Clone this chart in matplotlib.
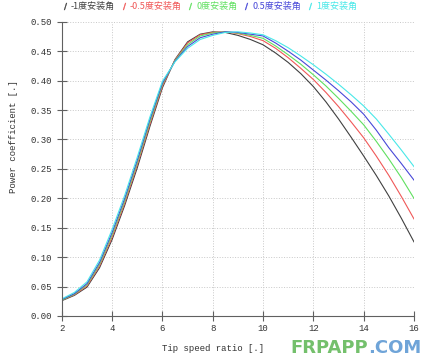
import matplotlib
matplotlib.use("Agg")
import matplotlib.pyplot as plt
from matplotlib.lines import Line2D

# tip speed ratio samples
tsr = [2, 2.5, 3, 3.5, 4, 4.5, 5, 5.5, 6, 6.5, 7, 7.5, 8, 8.5, 9, 9.5,
       10, 10.5, 11, 11.5, 12, 12.5, 13, 13.5, 14, 14.5, 15, 15.5, 16]

# power coefficient for each pitch angle
cp_m1 = [0.026, 0.035, 0.049, 0.082, 0.130, 0.188, 0.252, 0.322, 0.388, 0.436,
         0.466, 0.479, 0.483, 0.482, 0.477, 0.470, 0.461, 0.447, 0.431, 0.412,
         0.390, 0.364, 0.335, 0.304, 0.272, 0.239, 0.204, 0.166, 0.126]
cp_m05 = [0.027, 0.036, 0.051, 0.085, 0.134, 0.192, 0.257, 0.326, 0.391, 0.435,
          0.464, 0.478, 0.482, 0.483, 0.480, 0.475, 0.468, 0.455, 0.439, 0.421,
          0.402, 0.380, 0.356, 0.330, 0.303, 0.272, 0.239, 0.203, 0.165]
cp_0 = [0.027, 0.037, 0.053, 0.088, 0.138, 0.196, 0.261, 0.330, 0.394, 0.434,
        0.461, 0.476, 0.481, 0.483, 0.481, 0.477, 0.472, 0.459, 0.444, 0.428,
        0.410, 0.391, 0.370, 0.348, 0.325, 0.297, 0.267, 0.235, 0.200]
cp_p05 = [0.028, 0.038, 0.055, 0.091, 0.142, 0.200, 0.265, 0.334, 0.396, 0.433,
          0.458, 0.473, 0.479, 0.483, 0.482, 0.479, 0.476, 0.464, 0.450, 0.435,
          0.418, 0.401, 0.383, 0.364, 0.343, 0.316, 0.286, 0.259, 0.231]
cp_p1 = [0.029, 0.040, 0.058, 0.095, 0.147, 0.205, 0.270, 0.338, 0.399, 0.432,
         0.455, 0.470, 0.477, 0.482, 0.483, 0.481, 0.478, 0.468, 0.456, 0.442,
         0.427, 0.411, 0.394, 0.376, 0.357, 0.335, 0.309, 0.282, 0.254]

labels = ["-1度安装角", "-0.5度安装角", "0度安装角", "0.5度安装角", "1度安装角"]
colors = ["#404040", "#f05858", "#60e060", "#4848d8", "#48e8e8"]
series = [cp_m1, cp_m05, cp_0, cp_p05, cp_p1]

mono = "Liberation Mono"

fig = plt.figure(figsize=(4.48, 3.64), dpi=100)
ax = fig.add_axes([0.138, 0.132, 0.786, 0.808])

for cp, c in zip(series, colors):
    ax.plot(tsr, cp, color=c, lw=0.8)

ax.set_xlim(2, 16)
ax.set_ylim(0, 0.5)
ax.set_xticks(range(2, 17, 2))
ax.set_yticks([i * 0.05 for i in range(11)])
ax.set_yticklabels(["%.2f" % (i * 0.05) for i in range(11)])
ax.grid(True, ls=":", color="#c8c8c8", lw=0.7)

for s in ["top", "right"]:
    ax.spines[s].set_visible(False)
for s in ["left", "bottom"]:
    ax.spines[s].set_color("#606060")
ax.tick_params(direction="inout", length=7, width=0.8, color="#606060",
               labelsize=6.5, labelcolor="#333333")
ax.tick_params(axis="x", pad=2)
for lab in ax.get_xticklabels() + ax.get_yticklabels():
    lab.set_family(mono)

ax.set_xlabel("Tip speed ratio [.]", family=mono, fontsize=6.5, color="#333333")
ax.set_ylabel("Power coefficient [.]", family=mono, fontsize=6.5, color="#333333")
ax.xaxis.set_label_coords(0.43, -0.095)
ax.yaxis.set_label_coords(-0.125, 0.61)

# legend across the top with slanted strokes as keys
handles = [Line2D([], [], ls="none", marker="$/$", markersize=5, color=c,
                  markeredgewidth=0.3) for c in colors]
leg = fig.legend(handles, labels, loc="upper left", bbox_to_anchor=(0.118, 1.017),
                 ncol=5, frameon=False, handlelength=0.8, handletextpad=0.3,
                 columnspacing=0.55,
                 prop={"family": ["Noto Sans CJK SC", "DejaVu Sans"], "size": 6.5})
for t, c in zip(leg.get_texts(), colors):
    t.set_color(c)

# watermark
wm1 = fig.text(0.648, 0.03, "FRPAPP", color="#74c06c", fontsize=13, fontweight="bold")
fig.canvas.draw()
bb = wm1.get_window_extent()
fig.text(bb.x1 / fig.bbox.width, 0.03, ".COM", color="#6fa4d8", fontsize=13,
         fontweight="bold")

fig.savefig("out.png", dpi=100)
